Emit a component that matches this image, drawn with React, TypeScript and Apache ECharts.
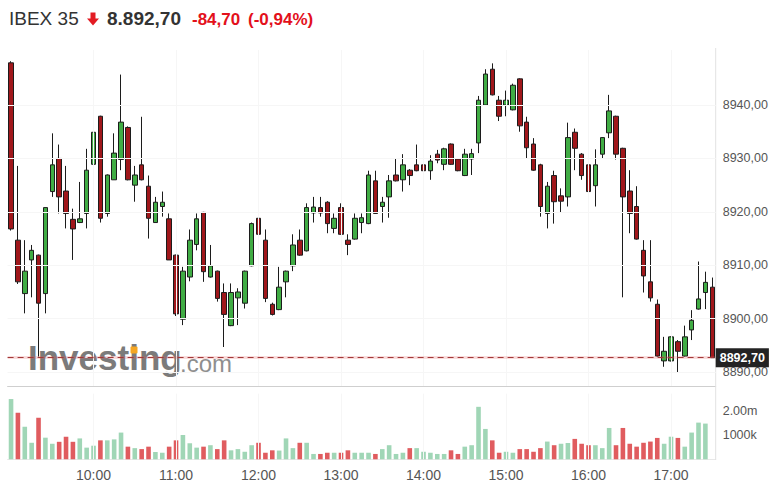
import React, { useEffect, useRef } from "react";
import * as echarts from "echarts";

// 5-minute candles 9:00 .. 17:30
const times: string[] = [];
for (let h = 9; h <= 17; h++) {
  for (let m = 0; m < 60; m += 5) {
    if (h === 17 && m > 30) break;
    times.push(`${h}:${m < 10 ? "0" + m : m}`);
  }
}

const opens = [
  8947.9, 8914.7, 8904.7, 8911.0, 8911.9, 8904.7, 8923.8, 8930.0, 8923.9, 8918.6,
  8918.0, 8919.7, 8928.9, 8937.9, 8919.7, 8926.0, 8929.8, 8935.8, 8925.0, 8928.8,
  8924.8, 8918.0, 8921.0, 8918.7, 8911.9, 8899.9, 8907.8, 8913.9, 8919.9, 8907.8,
  8908.9, 8904.9, 8898.7, 8903.9, 8902.9, 8909.9, 8918.8, 8914.7, 8902.7, 8901.7,
  8906.9, 8909.9, 8914.7, 8912.7, 8919.8, 8920.8, 8921.8, 8916.9, 8920.8, 8914.7,
  8914.9, 8918.0, 8917.8, 8925.8, 8921.0, 8922.8, 8926.9, 8926.0, 8927.8, 8928.8,
  8928.8, 8927.7, 8930.8, 8928.9, 8932.7, 8929.9, 8926.8, 8929.9, 8932.9, 8940.0,
  8946.7, 8940.9, 8940.0, 8939.1, 8944.9, 8936.8, 8932.7, 8928.8, 8919.7, 8926.8,
  8923.0, 8922.8, 8934.9, 8930.8, 8928.8, 8924.9, 8930.8, 8934.8, 8937.9, 8931.9,
  8923.9, 8921.0, 8912.8, 8906.9, 8902.7, 8892.1, 8892.1, 8895.7, 8893.0, 8897.9,
  8901.8, 8904.9, 8905.9,
];
const highs = [
  8948.2, 8928.6, 8914.7, 8913.8, 8912.0, 8920.8, 8934.7, 8932.6, 8928.6, 8920.6,
  8925.6, 8931.8, 8937.8, 8938.0, 8927.0, 8934.7, 8945.7, 8936.0, 8928.6, 8937.8,
  8926.8, 8922.8, 8923.8, 8919.7, 8912.0, 8909.7, 8916.7, 8919.7, 8920.0, 8913.8,
  8909.0, 8906.6, 8906.6, 8905.7, 8909.0, 8918.0, 8924.7, 8916.7, 8903.0, 8909.7,
  8909.0, 8915.8, 8916.7, 8921.6, 8922.8, 8922.8, 8922.0, 8919.7, 8921.6, 8915.8,
  8919.7, 8919.7, 8927.7, 8927.7, 8922.8, 8926.9, 8930.0, 8930.8, 8928.0, 8932.6,
  8929.7, 8930.6, 8931.6, 8932.0, 8932.8, 8930.0, 8931.8, 8931.8, 8941.7, 8946.7,
  8947.8, 8941.7, 8942.7, 8944.0, 8945.0, 8937.8, 8933.8, 8929.0, 8925.6, 8927.7,
  8924.4, 8936.7, 8935.6, 8931.0, 8929.0, 8931.7, 8934.0, 8941.9, 8938.0, 8932.0,
  8927.8, 8924.8, 8914.7, 8914.7, 8903.6, 8896.6, 8896.7, 8896.0, 8898.7, 8901.6,
  8910.7, 8908.8, 8907.7,
];
const lows = [
  8916.5, 8906.5, 8901.0, 8904.0, 8892.9, 8901.0, 8922.8, 8919.7, 8916.9, 8911.0,
  8917.9, 8916.9, 8926.9, 8918.0, 8919.1, 8926.0, 8927.8, 8925.9, 8921.9, 8925.9,
  8915.0, 8918.0, 8919.1, 8911.0, 8900.5, 8898.8, 8907.0, 8912.8, 8906.9, 8907.7,
  8903.2, 8894.7, 8898.6, 8898.8, 8901.9, 8909.8, 8915.0, 8903.1, 8900.6, 8901.6,
  8904.0, 8908.9, 8911.8, 8912.6, 8918.0, 8919.1, 8916.0, 8916.0, 8915.7, 8911.9,
  8914.8, 8916.0, 8917.7, 8919.6, 8918.0, 8918.9, 8925.7, 8923.8, 8925.0, 8927.6,
  8926.9, 8926.0, 8929.1, 8927.8, 8928.8, 8927.6, 8926.7, 8926.9, 8931.0, 8939.9,
  8941.8, 8937.0, 8937.9, 8939.0, 8935.0, 8930.0, 8927.7, 8919.1, 8916.9, 8917.8,
  8919.9, 8921.0, 8927.8, 8926.0, 8921.0, 8921.0, 8929.9, 8933.8, 8929.8, 8904.0,
  8916.0, 8914.8, 8904.9, 8903.2, 8892.9, 8891.0, 8892.0, 8890.0, 8892.9, 8896.0,
  8901.7, 8901.8, 8892.7,
];
const closes = [
  8916.8, 8906.9, 8908.9, 8912.8, 8902.9, 8920.8, 8928.8, 8922.8, 8919.7, 8916.8,
  8918.7, 8927.8, 8934.9, 8918.8, 8926.9, 8931.0, 8936.8, 8926.0, 8926.9, 8926.0,
  8918.8, 8921.8, 8921.8, 8911.0, 8900.9, 8908.9, 8914.7, 8918.7, 8908.8, 8909.9,
  8903.8, 8900.8, 8904.9, 8905.0, 8908.9, 8917.8, 8915.8, 8903.8, 8900.8, 8905.9,
  8908.9, 8913.8, 8911.9, 8920.8, 8920.9, 8919.8, 8917.8, 8918.8, 8915.8, 8913.9,
  8918.8, 8918.9, 8926.9, 8919.7, 8921.8, 8925.8, 8925.8, 8928.8, 8926.8, 8927.7,
  8927.7, 8929.5, 8929.7, 8931.8, 8928.9, 8927.7, 8930.8, 8930.9, 8940.9, 8945.8,
  8941.9, 8937.9, 8940.9, 8943.7, 8936.1, 8932.0, 8927.8, 8921.0, 8924.8, 8921.9,
  8922.0, 8933.9, 8931.9, 8926.8, 8923.8, 8928.8, 8933.9, 8938.9, 8930.8, 8922.8,
  8919.7, 8914.9, 8908.0, 8903.9, 8893.0, 8893.9, 8896.6, 8893.9, 8896.6, 8899.7,
  8903.7, 8906.8, 8892.7,
];
// volume in millions
const volumes = [
  2.48, 1.92, 1.34, 0.68, 1.71, 0.89, 0.64, 0.72, 0.93, 0.72,
  0.86, 0.48, 0.56, 0.78, 0.78, 0.82, 1.10, 0.52, 0.46, 0.42,
  0.52, 0.30, 0.27, 0.52, 0.78, 1.00, 0.66, 0.48, 0.52, 0.58,
  0.42, 0.78, 0.37, 0.42, 0.31, 0.58, 0.68, 0.27, 0.37, 0.36,
  0.86, 0.46, 0.68, 0.68, 0.22, 0.22, 0.27, 0.27, 0.27, 0.37,
  0.27, 0.27, 0.27, 0.22, 0.42, 0.58, 0.22, 0.27, 0.46, 0.46,
  0.31, 0.27, 0.22, 0.22, 0.37, 0.22, 0.52, 0.58, 2.16, 1.25,
  0.78, 0.27, 0.31, 0.27, 0.42, 0.42, 0.31, 0.46, 0.73, 0.58,
  0.64, 0.67, 0.84, 0.64, 0.58, 0.58, 0.46, 1.29, 0.58, 1.29,
  0.64, 0.52, 0.68, 0.73, 0.88, 0.64, 0.93, 0.88, 0.52, 1.10,
  1.51, 1.47, 0,
];
const priceTicks = [8890, 8900, 8910, 8920, 8930, 8940];
const lastPrice = 8892.7;
const hourLabels = ["10:00", "11:00", "12:00", "13:00", "14:00", "15:00", "16:00", "17:00"];

const FONT = "'Liberation Sans', Arial, sans-serif";
const fmtPrice = (v: number) => v.toFixed(2).replace(".", ",");

export default function App() {
  const ref = useRef<HTMLDivElement>(null);
  useEffect(() => {
    const chart = echarts.init(ref.current!, null, { renderer: "svg" });
    const candleData = opens.map((o, i) => [o, closes[i], lows[i], highs[i]]);
    const volData = volumes.map((v, i) => ({
      value: v,
      itemStyle: {
        color: i === 0 || closes[i] >= closes[i - 1] ? "#a0d6b6" : "#e05c5f",
      },
    }));
    const gridLineStyle = { color: "#f6f6f6", width: 1, type: "solid" as const };
    chart.setOption({
      animation: false,
      backgroundColor: "#ffffff",
      textStyle: { fontFamily: FONT },
      grid: [
        { left: 7.6, top: 50, width: 708.1, height: 336 },
        { left: 7.6, top: 393.7, width: 708.1, height: 65.6 },
      ],
      xAxis: [
        {
          type: "category",
          gridIndex: 0,
          data: times,
          boundaryGap: true,
          axisLine: { show: true, lineStyle: { color: "#cfcfcf" } },
          axisTick: { show: false },
          axisLabel: { show: false },
          splitLine: { show: false },
        },
        {
          type: "category",
          gridIndex: 1,
          data: times,
          boundaryGap: true,
          axisLine: { show: true, lineStyle: { color: "#e8e8e8" } },
          axisTick: { show: false },
          axisLabel: {
            interval: (_i: number, v: string) => hourLabels.indexOf(v) >= 0,
            color: "#555",
            fontSize: 14,
            fontFamily: FONT,
            margin: 9,
          },
          splitLine: { show: false },
        },
      ],
      yAxis: [
        {
          type: "value",
          gridIndex: 0,
          position: "right",
          min: 8887.4,
          max: 8950.3,
          scale: true,
          axisLine: { show: false },
          axisTick: { show: false },
          splitLine: { show: false },
          axisLabel: {
            customValues: priceTicks,
            formatter: (v: number) => fmtPrice(v),
            color: "#555",
            fontSize: 12.5,
            fontFamily: FONT,
            margin: 7,
          },
        },
        {
          type: "value",
          gridIndex: 1,
          position: "right",
          min: 0,
          max: 2.7,
          interval: 1,
          axisLine: { show: false },
          axisTick: { show: false },
          splitLine: { show: false },
          axisLabel: {
            formatter: (v: number) => (v === 2 ? "2.00m" : v === 1 ? "1000k" : ""),
            color: "#555",
            fontSize: 12.5,
            fontFamily: FONT,
            margin: 7,
            showMaxLabel: false,
          },
        },
      ],
      series: [
        {
          type: "line",
          xAxisIndex: 0,
          yAxisIndex: 0,
          data: [],
          z: 1,
          silent: true,
          markLine: {
            silent: true,
            symbol: "none",
            label: { show: false },
            lineStyle: gridLineStyle,
            data: [
              ...priceTicks.map((v) => ({ yAxis: v })),
              ...hourLabels.map((h) => ({ xAxis: h })),
            ],
          },
        },
        {
          type: "line",
          xAxisIndex: 1,
          yAxisIndex: 1,
          data: [],
          z: 1,
          silent: true,
          markLine: {
            silent: true,
            symbol: "none",
            label: { show: false },
            lineStyle: gridLineStyle,
            data: hourLabels.map((h) => ({ xAxis: h })),
          },
        },
        {
          type: "candlestick",
          xAxisIndex: 0,
          yAxisIndex: 0,
          data: candleData,
          barWidth: 5,
          z: 3,
          itemStyle: {
            color: "#40ac44",
            color0: "#a0171b",
            borderColor: "#1c1c1c",
            borderColor0: "#1c1c1c",
            borderWidth: 1,
          },
          markLine: {
            silent: true,
            symbol: "none",
            data: [
              {
                yAxis: lastPrice,
                lineStyle: { color: "rgba(225,90,90,0.22)", width: 3, type: "solid" },
                label: { show: false },
              },
              {
                yAxis: lastPrice,
                lineStyle: { color: "#a23838", width: 1, type: [6, 4] },
                label: {
                  show: true,
                  position: "end",
                  distance: 0,
                  formatter: fmtPrice(lastPrice),
                  backgroundColor: "#232323",
                  color: "#ffffff",
                  fontSize: 12.5,
                  fontWeight: "bold",
                  fontFamily: FONT,
                  padding: [3, 4, 3, 4],
                },
              },
            ],
          },
        },
        {
          type: "bar",
          xAxisIndex: 1,
          yAxisIndex: 1,
          data: volData,
          barWidth: 4.6,
          z: 3,
        },
      ],
      graphic: [
        {
          type: "line",
          shape: { x1: 715.7, y1: 48, x2: 715.7, y2: 460 },
          style: { stroke: "#e2e2e2", lineWidth: 1 },
          z: 1,
        },
        {
          type: "text",
          x: 28,
          y: 375,
          z: 0,
          style: {
            text: "Investing",
            font: `bold 35px ${FONT}`,
            fill: "#7b7b7b",
            verticalAlign: "bottom",
          },
        },
        {
          type: "text",
          x: 180,
          y: 375,
          z: 0,
          style: {
            text: ".com",
            font: `24px ${FONT}`,
            fill: "#8f8f8f",
            verticalAlign: "bottom",
          },
        },
        {
          type: "rect",
          z: 1,
          shape: { x: 130.5, y: 346.5, width: 7, height: 7, r: 1 },
          style: { fill: "#f5a623" },
        },
        {
          type: "text",
          x: 9,
          y: 18.5,
          style: {
            text: "IBEX 35",
            font: `19px ${FONT}`,
            fill: "#333",
            verticalAlign: "middle",
          },
        },
        {
          type: "polygon",
          shape: {
            points: [
              [90.5, 12.5],
              [95.5, 12.5],
              [95.5, 18.5],
              [99, 18.5],
              [93, 25.5],
              [87, 18.5],
              [90.5, 18.5],
            ],
          },
          style: { fill: "#e31b23" },
        },
        {
          type: "text",
          x: 107,
          y: 18.5,
          style: {
            text: "8.892,70",
            font: `bold 19px ${FONT}`,
            fill: "#333",
            verticalAlign: "middle",
          },
        },
        {
          type: "text",
          x: 192,
          y: 19,
          style: {
            text: "-84,70",
            font: `bold 17px ${FONT}`,
            fill: "#e3101b",
            verticalAlign: "middle",
          },
        },
        {
          type: "text",
          x: 248,
          y: 19,
          style: {
            text: "(-0,94%)",
            font: `bold 17px ${FONT}`,
            fill: "#e3101b",
            verticalAlign: "middle",
          },
        },
      ],
    });
    return () => chart.dispose();
  }, []);
  return (
    <div
      ref={ref}
      style={{ position: "fixed", left: 0, top: 0, width: 783, height: 497 }}
    />
  );
}
